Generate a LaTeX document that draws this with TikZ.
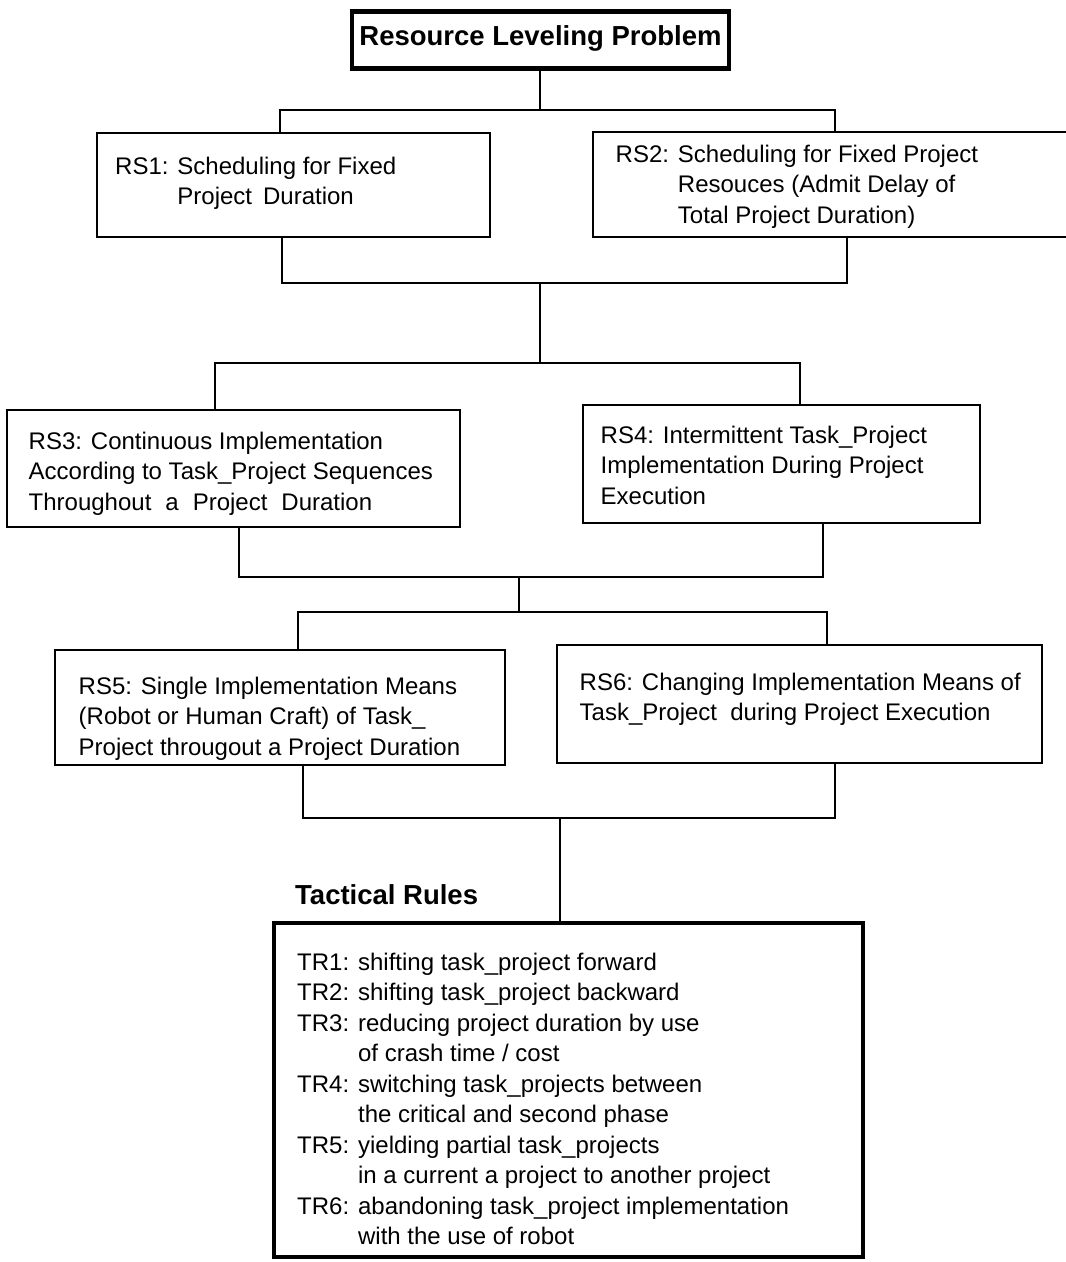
\documentclass[tikz,border=0pt]{standalone}
\usepackage{fontspec}
\setmainfont{Liberation Sans}
% left-aligned block of lines whose baseline is the first line's baseline
\newcommand\txtblock[1]{\begin{tabular}[t]{@{}l@{}}#1\end{tabular}}
\begin{document}
\begin{tikzpicture}[x=1pt,y=-1pt,
  wire/.style={line width=2.6pt},
  rsbox/.style={draw, rectangle, line width=2.6pt, inner sep=0pt},
  heavybox/.style={draw, rectangle, line width=4.8pt, inner sep=0pt},
  body/.style={inner sep=0pt, font=\fontsize{24}{30.5}\selectfont},
  heading/.style={inner sep=0pt, font=\fontsize{27.5}{33}\selectfont\bfseries},
]
\fill[white] (0,0) rectangle (1066,1262);
\useasboundingbox (0,0) rectangle (1066,1262);

% title
\node[heavybox, heading, minimum width=377pt, minimum height=57pt,
      text height=20pt, text depth=9pt] (top) at (540.5,40.3) {Resource Leveling Problem};

% strategy boxes
\node[rsbox, minimum width=393pt, minimum height=104pt] (rs1) at (293.5,185) {};
\node[rsbox, minimum width=484pt, minimum height=105pt] (rs2) at (835,184.5) {};
\node[rsbox, minimum width=453pt, minimum height=117pt] (rs3) at (233.5,468.5) {};
\node[rsbox, minimum width=397pt, minimum height=118pt] (rs4) at (781.5,464) {};
\node[rsbox, minimum width=450pt, minimum height=115pt] (rs5) at (280,707.5) {};
\node[rsbox, minimum width=485pt, minimum height=118pt] (rs6) at (799.5,704) {};

\node[body, anchor=base west] (rs1t) at (115,174) {\txtblock{RS1: Scheduling for Fixed\\
  \phantom{RS1: }Project\hspace{11pt}Duration}};
\node[body, anchor=base west] (rs2t) at (615.5,162) {\txtblock{RS2: Scheduling for Fixed Project\\
  \phantom{RS2: }Resouces (Admit Delay of\\
  \phantom{RS2: }Total Project Duration)}};
\node[body, anchor=base west] (rs3t) at (28.5,449) {\txtblock{RS3: Continuous Implementation\\
  According to Task\_Project Sequences\\
  Throughout\hspace{14pt}a\hspace{14pt}Project\hspace{14pt}Duration}};
\node[body, anchor=base west] (rs4t) at (600.5,443) {\txtblock{RS4: Intermittent Task\_Project\\
  Implementation During Project\\
  Execution}};
\node[body, anchor=base west] (rs5t) at (78.5,694) {\txtblock{RS5: Single Implementation Means\\
  (Robot or Human Craft) of Task\_\\
  Project througout a Project Duration}};
\node[body, anchor=base west] (rs6t) at (579.5,690) {\txtblock{RS6: Changing Implementation Means of\\
  Task\_Project\ \ during Project Execution}};

% tactical rules
\node[heading, anchor=base west] (trhead) at (295,904) {Tactical Rules};
\node[heavybox, minimum width=589pt, minimum height=334pt] (rules) at (568.5,1090) {};
\node[body, anchor=base west] (trtext) at (297,970) {\txtblock{TR1: shifting task\_project forward\\
  TR2: shifting task\_project backward\\
  TR3: reducing project duration by use\\
  \phantom{TR3: }of crash time / cost\\
  TR4: switching task\_projects between\\
  \phantom{TR4: }the critical and second phase\\
  TR5: yielding partial task\_projects\\
  \phantom{TR5: }in a current a project to another project\\
  TR6: abandoning task\_project implementation\\
  \phantom{TR6: }with the use of robot}};

% junctions of the connecting lines
\coordinate (b1) at (540,110);
\coordinate (b2) at (540,283);
\coordinate (b3) at (540,363);
\coordinate (b4) at (519,577);
\coordinate (b5) at (519,612);
\coordinate (b6) at (560,818);

% connectors
\draw[wire] (top.south -| b1) -- (b1);
\draw[wire] ([xshift=-13.5pt]rs1.north) |- (b1) -| (rs2.north);
\draw[wire] ([xshift=-11.5pt]rs1.south) |- (b2) -| ([xshift=12pt]rs2.south);
\draw[wire] (b2) -- (b3);
\draw[wire] ([xshift=-18.5pt]rs3.north) |- (b3) -| ([xshift=18.5pt]rs4.north);
\draw[wire] ([xshift=5.5pt]rs3.south) |- (b4) -| ([xshift=41.5pt]rs4.south);
\draw[wire] (b4) -- (b5);
\draw[wire] ([xshift=18pt]rs5.north) |- (b5) -| ([xshift=27.5pt]rs6.north);
\draw[wire] ([xshift=23pt]rs5.south) |- (b6) -| ([xshift=35.5pt]rs6.south);
\draw[wire] (b6) -- (rules.north -| b6);
\end{tikzpicture}
\end{document}
